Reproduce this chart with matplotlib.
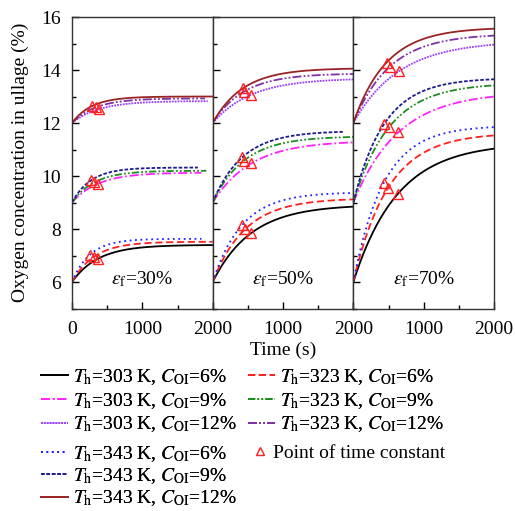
import numpy as np
import matplotlib
matplotlib.use('Agg')
from matplotlib import pyplot as plt
from matplotlib.lines import Line2D
from matplotlib.ticker import MultipleLocator

plt.rcParams['font.family'] = ['Liberation Serif', 'DejaVu Serif']
plt.rcParams['mathtext.fontset'] = 'stix'
plt.rcParams['font.size'] = 14

# condition order: (Th, C_OI)
Th = [303, 303, 303, 323, 323, 323, 343, 343, 343]
C_OI = [6, 9, 12, 6, 9, 12, 6, 9, 12]

fill_ratio = [30, 50, 70]

# time constant (s) of each run, per fill ratio
tau_30 = [373, 373, 383, 316, 316, 336, 255, 270, 280]
tau_50 = [548, 548, 548, 463, 444, 444, 416, 421, 430]
tau_70 = [630, 638, 652, 496, 510, 520, 430, 440, 472]

# settled oxygen concentration (%)
cinf_30 = [7.40, 10.13, 12.83, 7.52, 10.20, 12.93, 7.63, 10.32, 13.00]
cinf_50 = [8.92, 11.33, 13.69, 9.16, 11.50, 13.87, 9.39, 11.70, 14.07]
cinf_70 = [11.25, 13.18, 15.10, 11.63, 13.51, 15.37, 11.90, 13.70, 15.61]

# last recorded time (s)
tend_30 = [2000, 1840, 1930, 2000, 1910, 1890, 1840, 1790, 2000]
tend_50 = [2000, 2000, 2000, 2000, 2000, 2000, 2000, 1850, 2000]
tend_70 = [2000, 2000, 2000, 2000, 2000, 2000, 2000, 2000, 2000]

styles = [
	dict(color='black', ls='-'),
	dict(color='#ff22ff', ls=(0, (5, 1.5, 1, 1.5))),
	dict(color='#9a3cff', ls=(0, (1, 0.6))),
	dict(color='#ff2020', ls=(0, (4, 2))),
	dict(color='#1e8c1e', ls=(0, (4, 1.2, 1, 1.2, 1, 1.2))),
	dict(color='#8030a8', ls=(0, (5, 1.2, 1, 1.2, 1, 1.2))),
	dict(color='#2020ff', ls=(0, (1, 2))),
	dict(color='#1c1c90', ls=(0, (2, 1))),
	dict(color='#9a2424', ls='-'),
]

panels = [(tau_30, cinf_30, tend_30), (tau_50, cinf_50, tend_50), (tau_70, cinf_70, tend_70)]

fig = plt.figure(figsize=(5.15, 5.11), dpi=100)
left, bottom, width, height = 72 / 515, 1 - 308.5 / 511, 422 / 3 / 515, 291.5 / 511

for k, (tau, cinf, tend) in enumerate(panels):
	ax = fig.add_axes([left + k * width, bottom, width, height])
	for i in range(9):
		t = np.linspace(0, tend[i], 300)
		c0 = C_OI[i]
		# first-order rise toward the settled value
		c = cinf[i] - (cinf[i] - c0) * np.exp(-t / tau[i])
		ax.plot(t, c, lw=1.3, **styles[i])
	for i in range(9):
		c0 = C_OI[i]
		ctau = cinf[i] - (cinf[i] - c0) * np.exp(-1.0)
		ax.plot(tau[i], ctau, '^', ms=7.5, mfc='none', mec='#ff2020', mew=1.0)
	ax.set_xlim(0, 2000)
	ax.set_ylim(5, 16)
	ax.set_xticks([0, 1000, 2000])
	ax.set_yticks([6, 8, 10, 12, 14, 16])
	if k == 0:
		ax.set_xticklabels(['0', '1000', '2000'])
	else:
		ax.set_xticklabels(['', '1000', '2000'])
		ax.set_yticklabels([])
	ax.xaxis.set_minor_locator(MultipleLocator(500))
	ax.yaxis.set_minor_locator(MultipleLocator(1))
	ax.tick_params(which='both', direction='in', top=False, right=False, width=1)
	ax.tick_params(which='major', length=5)
	ax.tick_params(which='minor', length=3)
	ax.tick_params(axis='x', which='major', pad=9)
	ax.tick_params(axis='y', which='major', pad=8)
	for s in ax.spines.values():
		s.set_linewidth(1.0)
		s.set_color('#333333')
	ax.text(0.5, 0.1, r'$\varepsilon_\mathrm{f}$=%d%%' % fill_ratio[k], transform=ax.transAxes,
		ha='center', va='center', fontsize=14)
	if k == 0:
		ax.set_ylabel('Oxygen concentration in ullage (%)', labelpad=9)
	if k == 1:
		ax.set_xlabel('Time (s)', labelpad=3)

def make_label(i):
	return r'$T_\mathrm{h}$=%d K, $C_\mathrm{OI}$=%d%%' % (Th[i], C_OI[i])

def make_handle(i):
	return Line2D([], [], lw=1.3, **styles[i])

legfs = 14
order1 = [0, 1, 2, 3, 4, 5]
leg1 = fig.legend([make_handle(i) for i in order1], [make_label(i) for i in order1],
	ncol=2, loc='upper left', bbox_to_anchor=(41 / 515, 1 - 367 / 511), frameon=False,
	fontsize=legfs, handlelength=1.39, handletextpad=0.26, columnspacing=0.57,
	labelspacing=0.2, borderaxespad=0, borderpad=0)
order2 = [6, 7, 8]
leg2 = fig.legend([make_handle(i) for i in order2], [make_label(i) for i in order2],
	ncol=1, loc='upper left', bbox_to_anchor=(41 / 515, 1 - 444 / 511), frameon=False,
	fontsize=legfs, handlelength=1.39, handletextpad=0.26, labelspacing=0.13,
	borderaxespad=0, borderpad=0)
tri = Line2D([], [], marker='^', ls='none', ms=6, mfc='none', mec='#ff2020', mew=1.0)
leg3 = fig.legend([tri], ['Point of time constant'], loc='upper left',
	bbox_to_anchor=(254 / 515, 1 - 444 / 511), frameon=False, fontsize=legfs,
	handlelength=0.6, handletextpad=0.4, borderaxespad=0, borderpad=0)
fig.add_artist(leg1)
fig.add_artist(leg2)

fig.savefig('out.png', dpi=100)
